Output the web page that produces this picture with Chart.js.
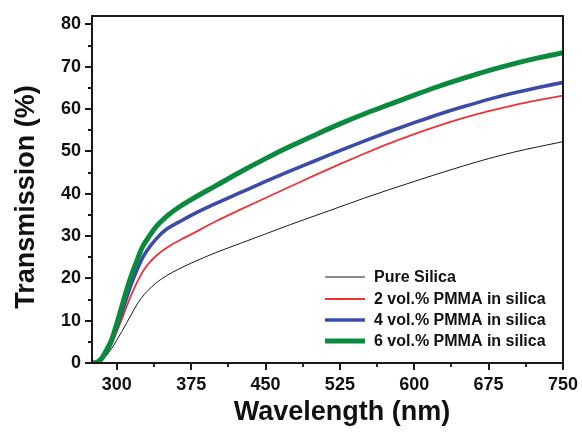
<!DOCTYPE html>
<html>
<head>
<meta charset="utf-8">
<script src="https://cdn.jsdelivr.net/npm/chart.js@4.4.1/dist/chart.umd.min.js"></script>
<style>
html,body{margin:0;padding:0;background:#fff;}
#wrap{width:582px;height:432px;position:relative;}
</style>
</head>
<body>
<div id="wrap"><canvas id="c" width="582" height="432"></canvas></div>
<script>
// ---- data ----
const wavelengths = [275,280,285,290,295,300,305,310,315,320,325,330,340,350,362.5,375,400,425,450,475,500,525,550,575,600,625,650,675,700,725,750];
const pureSilica  = [0,0.1,0.7,1.9,3.5,5.4,7.4,9.5,11.6,13.7,15.4,16.8,19.0,20.6,22.2,23.6,26.1,28.3,30.5,32.7,34.8,36.9,39.0,41.0,42.9,44.8,46.6,48.3,49.8,51.1,52.3];
const pmma2       = [0,0.1,0.7,2.3,4.6,7.4,10.3,13.4,16.3,18.9,21.1,22.9,25.4,27.2,28.9,30.4,33.5,36.3,39.0,41.7,44.4,47.0,49.5,51.9,54.1,56.1,57.9,59.5,60.9,62.1,63.2];
const pmma4       = [0,0.1,0.9,2.7,5.2,8.3,11.8,15.5,18.9,21.8,24.4,26.4,29.4,31.6,33.3,34.9,37.7,40.3,42.9,45.4,47.8,50.2,52.5,54.7,56.8,58.8,60.6,62.3,63.8,65.1,66.3];
const pmma6       = [0,0.2,1.2,3.2,5.6,9.3,13.3,17.3,20.9,24.0,27.0,29.0,32.3,34.6,36.8,38.6,41.9,45.2,48.3,51.2,53.9,56.5,58.9,61.1,63.3,65.4,67.3,69.1,70.7,72.1,73.3];
const seriesLabels = ['Pure Silica','2 vol.% PMMA in silica','4 vol.% PMMA in silica','6 vol.% PMMA in silica'];
const xTickValues = [300,375,450,525,600,675,750];
const xMinorTicks = [337.5,412.5,487.5,562.5,637.5,712.5];
const yTickValues = [0,10,20,30,40,50,60,70,80];
const yMinorTicks = [5,15,25,35,45,55,65,75];
const xTitle = 'Wavelength (nm)';
const yTitle = 'Transmission (%)';

const colors = ['#1a1a1a','#ec3338','#3b4ca8','#0a8a3c'];
const widths = [1,1.8,3.6,5];
const seriesVals = [pureSilica,pmma2,pmma4,pmma6];

const FONT = '"Liberation Sans", Arial, sans-serif';

const datasets = seriesVals.map((vals,i)=>({
  label: seriesLabels[i],
  data: wavelengths.map((x,j)=>({x:x,y:vals[j]})),
  borderColor: colors[i],
  backgroundColor: colors[i],
  borderWidth: widths[i],
  pointRadius: 0,
  fill: false,
  cubicInterpolationMode: 'monotone',
  order: 3 - i
}));

const decor = {
  id:'decor',
  afterDraw(chart){
    const ctx = chart.ctx, a = chart.chartArea;
    const xs = chart.scales.x, ys = chart.scales.y;
    ctx.save();
    // frame
    ctx.strokeStyle = '#1a1a1a';
    ctx.lineWidth = 2;
    ctx.strokeRect(a.left, a.top, a.right - a.left, a.bottom - a.top);
    // minor ticks
    ctx.lineWidth = 1.8;
    ctx.beginPath();
    xMinorTicks.forEach(v=>{
      const px = Math.round(xs.getPixelForValue(v));
      ctx.moveTo(px, a.bottom); ctx.lineTo(px, a.bottom + 4);
    });
    yMinorTicks.forEach(v=>{
      const py = Math.round(ys.getPixelForValue(v));
      ctx.moveTo(a.left, py); ctx.lineTo(a.left - 4, py);
    });
    ctx.stroke();
    // axis titles
    ctx.fillStyle = '#111';
    ctx.font = 'bold 27px ' + FONT;
    ctx.textAlign = 'center';
    ctx.textBaseline = 'middle';
    ctx.fillText(xTitle, 342, 413);
    ctx.save();
    ctx.translate(27, 197);
    ctx.rotate(-Math.PI/2);
    ctx.fillText(yTitle, 0, 0);
    ctx.restore();
    // legend
    const legY = [277, 299, 320, 341];
    ctx.font = 'bold 16px ' + FONT;
    ctx.textAlign = 'left';
    chart.data.datasets.forEach((ds,i)=>{
      ctx.strokeStyle = ds.borderColor;
      ctx.lineWidth = ds.borderWidth;
      ctx.beginPath();
      ctx.moveTo(325, legY[i]); ctx.lineTo(365, legY[i]);
      ctx.stroke();
      ctx.fillStyle = '#111';
      ctx.fillText(ds.label, 374, legY[i] + 1);
    });
    ctx.restore();
  }
};

new Chart(document.getElementById('c'), {
  type:'line',
  data:{datasets:datasets},
  options:{
    responsive:false,
    animation:false,
    devicePixelRatio:1,
    layout:{padding:{left:0,top:16,right:17,bottom:0}},
    plugins:{legend:{display:false},tooltip:{enabled:false}},
    scales:{
      x:{
        type:'linear', min:275, max:750,
        afterBuildTicks(s){ s.ticks = xTickValues.map(v=>({value:v})); },
        afterFit(s){ s.height = 69; },
        border:{display:false},
        grid:{drawOnChartArea:false, drawTicks:true, tickLength:7, color:'#1a1a1a', lineWidth:2},
        ticks:{color:'#111', font:{family:FONT, size:18, weight:'bold'}, padding:4, maxRotation:0}
      },
      y:{
        type:'linear', min:0, max:82,
        afterBuildTicks(s){ s.ticks = yTickValues.map(v=>({value:v})); },
        afterFit(s){ s.width = 92; },
        border:{display:false},
        grid:{drawOnChartArea:false, drawTicks:true, tickLength:7, color:'#1a1a1a', lineWidth:2},
        ticks:{color:'#111', font:{family:FONT, size:18, weight:'bold'}, padding:4}
      }
    }
  },
  plugins:[decor]
});
</script>
</body>
</html>
